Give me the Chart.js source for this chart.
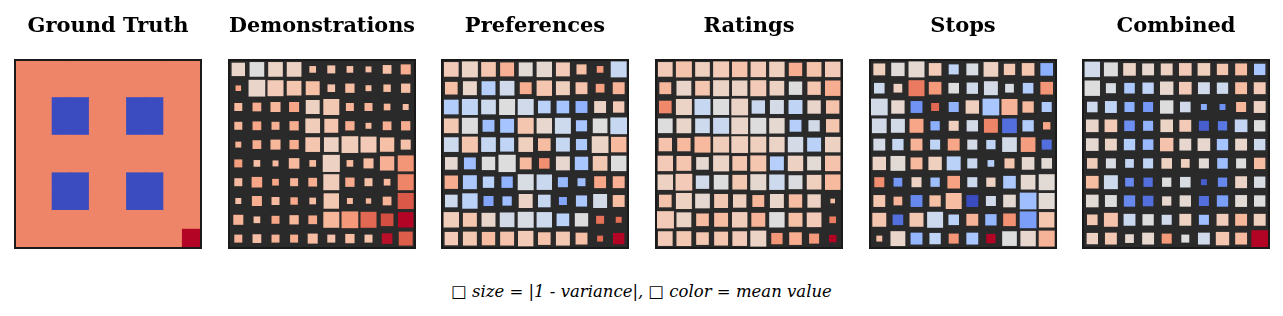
<!DOCTYPE html>
<html>
<head>
<meta charset="utf-8">
<script src="https://cdn.jsdelivr.net/npm/chart.js@4/dist/chart.umd.min.js"></script>
<style>
  body { margin: 0; background: #fff; width: 1283px; height: 316px; overflow: hidden; position: relative; }
  .panel { position: absolute; top: 0; width: 190px; height: 250px; }
  .note { position: absolute; left: 0; width: 1283px; top: 282px; text-align: center;
          font-family: "DejaVu Serif", serif; font-style: italic; font-size: 16.5px; color: #000; }
</style>
</head>
<body>
<div class="panel" style="left:13px"><canvas id="c0"></canvas></div>
<div class="panel" style="left:227px"><canvas id="c1"></canvas></div>
<div class="panel" style="left:440px"><canvas id="c2"></canvas></div>
<div class="panel" style="left:654px"><canvas id="c3"></canvas></div>
<div class="panel" style="left:868px"><canvas id="c4"></canvas></div>
<div class="panel" style="left:1081px"><canvas id="c5"></canvas></div>
<div class="note">□ size = |1 - variance|, □ color = mean value</div>

<script>
const titles = ["Ground Truth", "Demonstrations", "Preferences", "Ratings", "Stops", "Combined"];

// mean values (normalised 0..1 on the colour scale), rows top to bottom
const gtMean = [
  [.8,.8,.8,.8,.8,.8,.8,.8,.8,.8],
  [.8,.8,.8,.8,.8,.8,.8,.8,.8,.8],
  [.8,.8,0,0,.8,.8,0,0,.8,.8],
  [.8,.8,0,0,.8,.8,0,0,.8,.8],
  [.8,.8,.8,.8,.8,.8,.8,.8,.8,.8],
  [.8,.8,.8,.8,.8,.8,.8,.8,.8,.8],
  [.8,.8,0,0,.8,.8,0,0,.8,.8],
  [.8,.8,0,0,.8,.8,0,0,.8,.8],
  [.8,.8,.8,.8,.8,.8,.8,.8,.8,.8],
  [.8,.8,.8,.8,.8,.8,.8,.8,.8,1]
];
const gtSize = [
  [1,1,1,1,1,1,1,1,1,1],[1,1,1,1,1,1,1,1,1,1],[1,1,1,1,1,1,1,1,1,1],[1,1,1,1,1,1,1,1,1,1],
  [1,1,1,1,1,1,1,1,1,1],[1,1,1,1,1,1,1,1,1,1],[1,1,1,1,1,1,1,1,1,1],[1,1,1,1,1,1,1,1,1,1],
  [1,1,1,1,1,1,1,1,1,1],[1,1,1,1,1,1,1,1,1,1]
];

const demoMean = [
  [.55,.5,.56,.57,.64,.63,.64,.65,.64,.7],
  [.73,.55,.6,.62,.64,.63,.65,.65,.65,.64],
  [.66,.7,.67,.72,.57,.61,.68,.68,.67,.65],
  [.67,.72,.69,.7,.59,.62,.7,.66,.69,.7],
  [.68,.7,.67,.7,.62,.57,.59,.6,.64,.63],
  [.74,.64,.66,.66,.66,.57,.66,.65,.69,.76],
  [.66,.72,.72,.68,.7,.59,.71,.64,.66,.8],
  [.64,.7,.66,.71,.65,.61,.66,.67,.68,.89],
  [.68,.64,.72,.67,.71,.67,.75,.86,.91,1],
  [.68,.64,.68,.7,.65,.63,.65,.63,.99,.88]
];
const demoSize = [
  [.72,.79,.79,.79,.36,.43,.36,.32,.47,.54],
  [.3,.9,.86,.79,.75,.41,.5,.32,.4,.5],
  [.43,.47,.54,.54,.75,.86,.43,.43,.36,.32],
  [.43,.47,.43,.5,.79,.75,.5,.32,.47,.5],
  [.32,.47,.54,.5,.79,.79,.9,.86,.77,.54],
  [.43,.36,.32,.57,.36,.92,.36,.54,.77,.86],
  [.43,.57,.36,.43,.47,.86,.5,.43,.36,.86],
  [.32,.54,.43,.4,.36,.83,.32,.29,.47,.86],
  [.54,.36,.43,.5,.47,.86,.9,.86,.68,.83],
  [.43,.47,.43,.43,.54,.43,.5,.43,.57,.75]
];

const prefMean = [
  [.6,.56,.62,.69,.52,.53,.6,.64,.75,.42],
  [.64,.55,.37,.45,.7,.62,.58,.63,.73,.68],
  [.36,.4,.44,.5,.45,.38,.32,.26,.56,.6],
  [.61,.5,.3,.32,.62,.54,.44,.32,.5,.42],
  [.44,.62,.42,.4,.58,.65,.42,.34,.56,.66],
  [.53,.3,.5,.5,.66,.78,.54,.33,.61,.5],
  [.7,.34,.38,.26,.48,.43,.28,.3,.72,.69],
  [.44,.38,.22,.3,.56,.42,.22,.34,.46,.65],
  [.59,.62,.55,.46,.48,.44,.38,.5,.84,.85],
  [.6,.61,.65,.63,.6,.63,.61,.64,.85,1]
];
const prefSize = [
  [.79,.86,.79,.75,.75,.83,.75,.54,.36,.86],
  [.68,.75,.75,.79,.64,.83,.75,.64,.47,.64],
  [.79,.86,.79,.86,.86,.68,.68,.64,.64,.61],
  [.79,.86,.64,.75,.86,.83,.86,.6,.79,.9],
  [.79,.86,.79,.75,.79,.68,.75,.6,.9,.83],
  [.68,.64,.72,.93,.64,.57,.75,.72,.79,.83],
  [.72,.75,.61,.61,.86,.83,.54,.43,.64,.64],
  [.68,.83,.54,.5,.75,.68,.43,.6,.75,.64],
  [.83,.75,.75,.79,.86,.83,.68,.72,.43,.32],
  [.72,.75,.72,.75,.83,.68,.75,.64,.32,.61]
];

const rateMean = [
  [.6,.63,.58,.6,.63,.6,.58,.7,.63,.6],
  [.67,.55,.62,.56,.56,.6,.57,.5,.62,.7],
  [.79,.56,.42,.5,.56,.43,.47,.4,.55,.63],
  [.5,.55,.44,.43,.55,.5,.53,.37,.46,.62],
  [.63,.66,.66,.59,.58,.58,.56,.47,.38,.57],
  [.6,.62,.53,.56,.62,.62,.37,.57,.52,.63],
  [.57,.6,.45,.5,.61,.53,.44,.49,.58,.66],
  [.63,.57,.53,.61,.58,.67,.55,.65,.57,.65],
  [.6,.56,.65,.65,.59,.68,.5,.64,.6,.82],
  [.6,.61,.61,.62,.6,.56,.76,.7,.75,1]
];
const rateSize = [
  [.79,.86,.79,.86,.83,.83,.83,.72,.79,.83],
  [.64,.8,.79,.86,.83,.86,.79,.72,.72,.83],
  [.68,.86,.86,.86,.9,.72,.75,.75,.72,.72],
  [.79,.8,.79,.86,.9,.86,.83,.64,.61,.72],
  [.72,.72,.86,.86,.9,.86,.83,.83,.75,.83],
  [.83,.8,.68,.86,.79,.86,.75,.83,.75,.83],
  [.83,.9,.72,.79,.79,.86,.83,.75,.79,.83],
  [.68,.86,.79,.75,.72,.64,.75,.72,.72,.25],
  [.93,.8,.68,.75,.83,.75,.83,.75,.79,.36],
  [.79,.8,.68,.75,.79,.86,.61,.68,.54,.4]
];

const stopMean = [
  [.58,.51,.53,.6,.4,.48,.57,.61,.62,.25],
  [.44,.57,.82,.75,.5,.45,.47,.48,.36,.76],
  [.46,.54,.17,.86,.26,.58,.33,.68,.66,.35],
  [.46,.46,.72,.25,.58,.46,.8,.08,.36,.72],
  [.47,.42,.68,.4,.72,.47,.4,.46,.74,.08],
  [.56,.52,.66,.58,.38,.43,.37,.62,.53,.52],
  [.78,.18,.57,.3,.73,.44,.57,.34,.53,.52],
  [.62,.68,.14,.64,.65,0,.45,.53,.3,.52],
  [.62,.08,.61,.44,.38,.68,.27,.77,.2,.62],
  [.64,.55,.27,.4,.76,.33,1,.5,.54,.68]
];
const stopSize = [
  [.64,.72,.86,.68,.54,.64,.79,.61,.68,.68],
  [.57,.47,.86,.68,.57,.61,.75,.47,.57,.68],
  [.9,.72,.64,.43,.54,.72,.9,.86,.61,.54],
  [.79,.75,.75,.5,.54,.61,.75,.79,.61,.4],
  [.64,.61,.64,.54,.64,.54,.5,.79,.79,.54],
  [.72,.8,.64,.72,.75,.54,.36,.54,.68,.57],
  [.54,.47,.54,.5,.68,.54,.5,.68,.79,.86],
  [.64,.47,.64,.61,.86,.64,.54,.68,.9,.86],
  [.75,.57,.75,.86,.57,.64,.61,.68,.9,.83],
  [.32,.8,.64,.61,.54,.64,.5,.79,.83,.86]
];

const combMean = [
  [.45,.5,.56,.54,.57,.6,.58,.62,.65,.33],
  [.5,.48,.34,.4,.54,.6,.45,.44,.65,.6],
  [.44,.4,.25,.18,.5,.45,.24,.16,.67,.57],
  [.55,.6,.16,.26,.56,.6,.04,.1,.41,.5],
  [.53,.56,.36,.28,.63,.54,.54,.32,.55,.44],
  [.59,.48,.41,.4,.57,.58,.52,.3,.5,.65],
  [.65,.44,.14,.08,.5,.48,.04,.14,.56,.48],
  [.52,.5,.14,.08,.54,.53,.08,.2,.52,.5],
  [.61,.63,.43,.5,.45,.57,.3,.59,.67,.58],
  [.57,.61,.53,.54,.75,.5,.45,.62,.66,1]
];
const combSize = [
  [.83,.75,.68,.64,.64,.68,.68,.61,.64,.61],
  [.83,.54,.57,.61,.72,.68,.64,.61,.64,.64],
  [.57,.64,.54,.54,.72,.57,.32,.32,.54,.64],
  [.68,.68,.57,.54,.68,.64,.54,.5,.68,.61],
  [.68,.64,.61,.57,.72,.64,.68,.61,.64,.61],
  [.57,.54,.47,.54,.57,.47,.54,.57,.54,.61],
  [.68,.75,.47,.5,.5,.57,.32,.5,.64,.61],
  [.68,.64,.61,.57,.5,.61,.54,.61,.64,.61],
  [.57,.75,.64,.61,.54,.64,.54,.64,.64,.64],
  [.61,.64,.47,.64,.54,.43,.64,.72,.64,.9]
];

const panelMeans = [gtMean, demoMean, prefMean, rateMean, stopMean, combMean];
const panelSizes = [gtSize, demoSize, prefSize, rateSize, stopSize, combSize];

// coolwarm colour map
const coolwarm = [
  [59,76,192],[68,90,204],[77,104,215],[87,117,225],[98,130,234],[108,142,241],[119,154,247],
  [130,165,251],[141,176,254],[152,185,255],[163,194,255],[174,201,253],[184,208,249],
  [194,213,244],[204,217,238],[213,219,230],[221,221,221],[229,216,209],[236,211,197],
  [241,204,185],[245,196,173],[247,187,160],[247,177,148],[247,166,135],[244,154,123],
  [241,141,111],[236,127,99],[229,112,88],[222,96,77],[213,80,66],[203,62,56],[192,40,47],[180,4,38]
];
function cmap(v) {
  v = Math.max(0, Math.min(1, v));
  const f = v * (coolwarm.length - 1);
  const i = Math.min(coolwarm.length - 2, Math.floor(f));
  const t = f - i;
  const a = coolwarm[i], b = coolwarm[i + 1];
  const c = a.map((x, k) => Math.round(x + (b[k] - x) * t));
  return `rgb(${c[0]},${c[1]},${c[2]})`;
}

// dark background + frame around the plot area
const framePlugin = {
  id: 'frame',
  beforeDatasetsDraw(chart) {
    const a = chart.chartArea, c = chart.ctx;
    c.save();
    c.fillStyle = '#2a2a2a';
    c.fillRect(a.left, a.top, a.right - a.left, a.bottom - a.top);
    c.restore();
  },
  afterDatasetsDraw(chart) {
    const a = chart.chartArea, c = chart.ctx;
    c.save();
    c.strokeStyle = '#1a1a1a';
    c.lineWidth = 2;
    c.strokeRect(a.left, a.top, a.right - a.left, a.bottom - a.top);
    c.restore();
  }
};

titles.forEach(function (title, p) {
  const means = panelMeans[p], sizes = panelSizes[p];
  const pts = [], colors = [], sz = [];
  for (let r = 0; r < 10; r++) {
    for (let c = 0; c < 10; c++) {
      pts.push({ x: c, y: r });
      colors.push(cmap(means[r][c]));
      sz.push(sizes[r][c]);
    }
  }
  new Chart(document.getElementById('c' + p), {
    type: 'scatter',
    data: {
      datasets: [{
        data: pts,
        pointStyle: 'rect',
        backgroundColor: colors,
        borderWidth: 0,
        pointBorderWidth: 0,
        pointRadius: function (ctx) {
          const a = ctx.chart.chartArea;
          if (!a) return 0;
          const cell = (a.right - a.left) / 10;
          const s = sz[ctx.dataIndex];
          // full cells get a hair of overlap so no seams show between them
          return (s * cell + (s >= 1 ? 1 : 0)) / Math.SQRT2;
        }
      }]
    },
    options: {
      responsive: true,
      maintainAspectRatio: false,
      animation: false,
      layout: { padding: { left: 2, right: 2, bottom: 2, top: 0 } },
      scales: {
        x: { display: false, min: -0.5, max: 9.5 },
        y: { display: false, min: -0.5, max: 9.5, reverse: true }
      },
      plugins: {
        legend: { display: false },
        tooltip: { enabled: false },
        title: {
          display: true,
          text: title,
          color: '#000',
          font: { family: 'DejaVu Serif', size: 21, weight: 'bold', lineHeight: 1.2 },
          padding: { top: 14, bottom: 20.8 }
        }
      }
    },
    plugins: [framePlugin]
  });
});
</script>
</body>
</html>
